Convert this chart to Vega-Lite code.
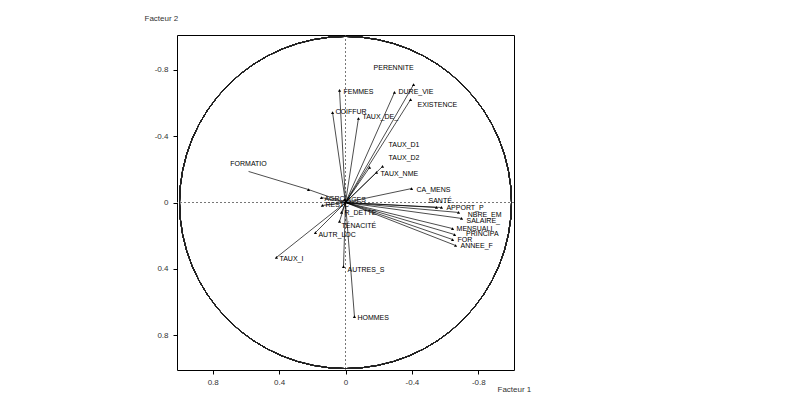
{
  "$schema": "https://vega.github.io/schema/vega-lite/v6.json",
  "autosize": {"type": "none"},
  "padding": {"left": 177, "top": 35, "right": 286, "bottom": 31},
  "width": 337,
  "height": 335,
  "background": "white",
  "config": {"view": {"stroke": "#000", "strokeWidth": 1}, "font": "Liberation Sans"},
  "data": {"values": [
    {"name": "PERENNITE", "hx": -0.41, "hy": -0.71, "lx": -0.163, "ly": -0.813},
    {"name": "DURE_VIE", "hx": -0.295, "hy": -0.663, "lx": -0.313, "ly": -0.663},
    {"name": "EXISTENCE", "hx": -0.392, "hy": -0.62, "lx": -0.428, "ly": -0.59},
    {"name": "FEMMES", "hx": 0.036, "hy": -0.675, "lx": 0.018, "ly": -0.663},
    {"name": "COIFFUR", "hx": 0.078, "hy": -0.542, "lx": 0.066, "ly": -0.548},
    {"name": "TAUX_DE_", "hx": -0.078, "hy": -0.506, "lx": -0.096, "ly": -0.518},
    {"name": "TAUX_D1", "hx": -0.145, "hy": -0.211, "lx": -0.253, "ly": -0.349},
    {"name": "TAUX_D2", "hx": -0.223, "hy": -0.217, "lx": -0.253, "ly": -0.271},
    {"name": "TAUX_NME", "hx": -0.187, "hy": -0.181, "lx": -0.205, "ly": -0.169},
    {"name": "CA_MENS", "hx": -0.398, "hy": -0.084, "lx": -0.422, "ly": -0.078},
    {"name": "SANTÉ", "hx": -0.548, "hy": 0.03, "lx": -0.494, "ly": -0.012},
    {"name": "APPORT_P", "hx": -0.578, "hy": 0.03, "lx": -0.602, "ly": 0.036},
    {"name": "NBRE_EM", "hx": -0.681, "hy": 0.06, "lx": -0.73, "ly": 0.075},
    {"name": "SALAIRE_", "hx": -0.699, "hy": 0.096, "lx": -0.723, "ly": 0.11},
    {"name": "MENSUALI", "hx": -0.645, "hy": 0.157, "lx": -0.663, "ly": 0.157},
    {"name": "PRINCIPA", "hx": -0.657, "hy": 0.193, "lx": -0.72, "ly": 0.19},
    {"name": "FOR", "hx": -0.645, "hy": 0.223, "lx": -0.669, "ly": 0.223},
    {"name": "ANNEE_F", "hx": -0.663, "hy": 0.259, "lx": -0.687, "ly": 0.265},
    {"name": "FORMATIO", "hx": 0.223, "hy": -0.078, "lx": 0.7, "ly": -0.229, "ex": 0.584, "ey": -0.187},
    {"name": "AGRC", "hx": 0.145, "hy": -0.03, "lx": 0.133, "ly": -0.024},
    {"name": "RESTC", "hx": 0.139, "hy": 0.018, "lx": 0.127, "ly": 0.018},
    {"name": "AGES", "hx": 0.006, "hy": -0.018, "lx": 0.0, "ly": -0.018},
    {"name": "R_DETTE", "hx": 0.024, "hy": 0.06, "lx": 0.012, "ly": 0.066},
    {"name": "TÉNACITÉ", "hx": 0.036, "hy": 0.114, "lx": 0.03, "ly": 0.139},
    {"name": "AUTR_LOC", "hx": 0.181, "hy": 0.181, "lx": 0.169, "ly": 0.193},
    {"name": "TAUX_I", "hx": 0.416, "hy": 0.331, "lx": 0.404, "ly": 0.343},
    {"name": "AUTRES_S", "hx": 0.012, "hy": 0.386, "lx": -0.006, "ly": 0.404},
    {"name": "HOMMES", "hx": -0.054, "hy": 0.687, "lx": -0.066, "ly": 0.693}
  ]},
  "layer": [
    {
      "mark": {"type": "rule", "stroke": "#777", "strokeDash": [2, 2], "strokeWidth": 0.8},
      "encoding": {"x": {"datum": 0, "type": "quantitative"}}
    },
    {
      "mark": {"type": "rule", "stroke": "#777", "strokeDash": [2, 2], "strokeWidth": 0.8},
      "encoding": {"y": {"datum": 0, "type": "quantitative"}}
    },
    {
      "mark": {"type": "point", "shape": "circle", "filled": false, "stroke": "#222", "strokeWidth": 0.5, "size": 110224, "opacity": 1},
      "encoding": {
        "x": {"datum": 0, "type": "quantitative"},
        "y": {"datum": 0, "type": "quantitative"}
      }
    },
    {
      "mark": {"type": "rule", "stroke": "#000", "strokeWidth": 0.7},
      "encoding": {
        "x": {"field": "hx", "type": "quantitative", "scale": {"domain": [-1.015, 1.015], "reverse": true, "nice": false, "zero": false},
          "axis": {"values": [-0.8, -0.4, 0, 0.4, 0.8], "labelExpr": "datum.value == 0 ? '0' : (datum.value < 0 ? '-' : '') + format(abs(datum.value), '.1f')", "grid": false, "domain": false, "tickColor": "#000", "tickSize": 4, "labelFontSize": 8, "labelColor": "#333", "labelPadding": 4, "title": "Facteur 1", "titleFontSize": 8, "titleFontWeight": "normal", "titleColor": "#333", "titleAnchor": "end", "titleAlign": "left", "titleX": 320, "titleY": 15}},
        "y": {"field": "hy", "type": "quantitative", "scale": {"domain": [-1.009, 1.009], "reverse": true, "nice": false, "zero": false},
          "axis": {"values": [-0.8, -0.4, 0, 0.4, 0.8], "labelExpr": "datum.value == 0 ? '0' : (datum.value < 0 ? '-' : '') + format(abs(datum.value), '.1f')", "grid": false, "domain": false, "tickColor": "#000", "tickSize": 4, "labelFontSize": 8, "labelColor": "#333", "labelPadding": 5, "title": "Facteur 2", "titleFontSize": 8, "titleFontWeight": "normal", "titleColor": "#333", "titleAngle": 0, "titleAlign": "left", "titleBaseline": "middle", "titleX": -33, "titleY": -17}},
        "x2": {"datum": 0},
        "y2": {"datum": 0}
      }
    },
    {
      "transform": [{"filter": "isValid(datum.ex)"}],
      "mark": {"type": "rule", "stroke": "#000", "strokeWidth": 0.7},
      "encoding": {
        "x": {"field": "ex", "type": "quantitative"},
        "y": {"field": "ey", "type": "quantitative"},
        "x2": {"field": "hx"},
        "y2": {"field": "hy"}
      }
    },
    {
      "mark": {"type": "point", "shape": "triangle-up", "filled": true, "color": "#000", "size": 10, "opacity": 1},
      "encoding": {
        "x": {"field": "hx", "type": "quantitative"},
        "y": {"field": "hy", "type": "quantitative"}
      }
    },
    {
      "mark": {"type": "text", "align": "left", "baseline": "middle", "fontSize": 7, "color": "#000", "dx": 1},
      "encoding": {
        "x": {"field": "lx", "type": "quantitative"},
        "y": {"field": "ly", "type": "quantitative"},
        "text": {"field": "name"}
      }
    }
  ]
}
